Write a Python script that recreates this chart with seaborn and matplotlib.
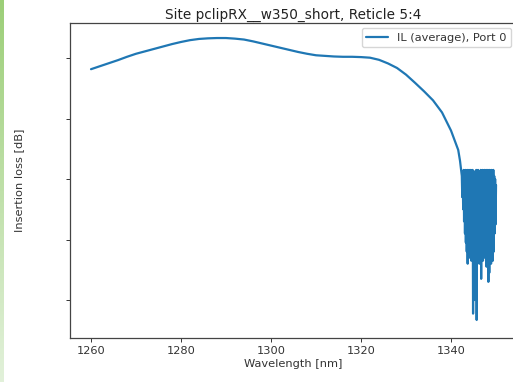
import numpy as np
import pandas as pd
import matplotlib
matplotlib.use("Agg")
import matplotlib.pyplot as plt
from matplotlib.colors import LinearSegmentedColormap
import seaborn as sns

# ---------------- data ----------------
smooth_wl = [1260, 1262, 1264, 1266, 1268, 1270, 1272, 1274, 1276, 1278,
             1280, 1282, 1284, 1286, 1288, 1290, 1292, 1294, 1296, 1298,
             1300, 1302, 1304, 1306, 1308, 1310, 1312, 1314, 1316, 1318,
             1320, 1322, 1324, 1326, 1328, 1330, 1332, 1334, 1336, 1338,
             1340, 1341, 1341.6, 1342.0]
smooth_il = [-4.37, -4.27, -4.17, -4.07, -3.96, -3.86, -3.78, -3.70, -3.62, -3.54,
             -3.47, -3.41, -3.37, -3.35, -3.34, -3.34, -3.36, -3.39, -3.45, -3.52,
             -3.59, -3.66, -3.73, -3.80, -3.86, -3.91, -3.93, -3.95, -3.96, -3.96,
             -3.97, -3.99, -4.06, -4.18, -4.33, -4.55, -4.82, -5.10, -5.40, -5.80,
             -6.40, -6.80, -7.04, -7.40]

noisy_wl = [1342.4, 1342.5, 1342.6, 1342.7, 1342.8, 1342.9, 1343.0, 1343.1, 1343.2, 1343.3,
            1343.4, 1343.5, 1343.6, 1343.7, 1343.8, 1343.9, 1344.0, 1344.1, 1344.2, 1344.3,
            1344.4, 1344.5, 1344.6, 1344.7, 1344.8, 1344.9, 1345.0, 1345.1, 1345.2, 1345.3,
            1345.4, 1345.5, 1345.6, 1345.7, 1345.8, 1345.9, 1346.0, 1346.1, 1346.2, 1346.3,
            1346.4, 1346.5, 1346.6, 1346.7, 1346.8, 1346.9, 1347.0, 1347.1, 1347.2, 1347.3,
            1347.4, 1347.5, 1347.6, 1347.7, 1347.8, 1347.9, 1348.0, 1348.1, 1348.2, 1348.3,
            1348.4, 1348.5, 1348.6, 1348.7, 1348.8, 1348.9, 1349.0, 1349.1, 1349.2, 1349.3,
            1349.4, 1349.5, 1349.6, 1349.7, 1349.8, 1349.9, 1350.0]
noisy_il = [-7.90, -8.60, -7.80, -9.00, -7.70, -9.40, -7.80, -9.80, -7.70, -10.10,
            -7.80, -10.40, -7.70, -10.80, -7.80, -10.30, -7.70, -10.60, -7.80, -10.40,
            -7.70, -10.70, -7.80, -10.50, -7.70, -12.45, -7.80, -10.30, -7.75, -12.00,
            -7.80, -10.60, -7.70, -12.66, -7.80, -10.70, -7.70, -10.30, -7.75, -10.80,
            -7.80, -10.40, -7.70, -11.30, -7.80, -10.50, -7.70, -10.70, -7.80, -10.40,
            -7.70, -10.60, -7.75, -10.30, -7.70, -10.90, -7.80, -10.50, -7.70, -11.40,
            -7.80, -11.10, -7.70, -10.60, -7.80, -10.80, -7.70, -10.50, -7.80, -10.70,
            -7.70, -10.40, -7.90, -9.80, -8.00, -9.50, -8.20]

y_ticks = [-4, -6, -8, -10, -12]
x_ticks = [1260, 1280, 1300, 1320, 1340]

title = "Site pclipRX__w350_short, Reticle 5:4"
series_label = "IL (average), Port 0"

df = pd.DataFrame({"Wavelength": smooth_wl + noisy_wl,
                   "IL": smooth_il + noisy_il})

# ---------------- figure ----------------
plt.rcParams["font.family"] = ["DejaVu Sans"]
plt.rcParams["path.simplify"] = False
fig = plt.figure(figsize=(5.13, 3.82), dpi=100)
fig.patch.set_facecolor("white")

# Jupyter-like green strip on the left edge
strip = fig.add_axes([0, 0, 3.5 / 513, 1])
grad = np.linspace(0, 1, 256).reshape(-1, 1)
cm = LinearSegmentedColormap.from_list("g", ["#9ccf78", "#e2f1da"])
strip.imshow(grad, aspect="auto", cmap=cm)
strip.set_axis_off()

ax = fig.add_axes([70 / 513, 44 / 382, 446 / 513, 315 / 382])
sns.lineplot(data=df, x="Wavelength", y="IL", ax=ax, color="#1f77b4",
             linewidth=1.6, estimator=None, sort=False, label=series_label,
             solid_joinstyle="round", solid_capstyle="round")

ax.set_xlim(1255.33, 1354.44)
ax.set_ylim(-13.256, -2.843)
ax.set_xticks(x_ticks)
ax.set_yticks(y_ticks)
ax.set_yticklabels([""] * len(y_ticks))
ax.tick_params(axis="both", labelsize=8.2, length=2.8, width=0.7, pad=2.6,
               colors="#333333", labelcolor="#333333")
for s in ax.spines.values():
    s.set_linewidth(0.9)
    s.set_color("#444444")

ax.set_xlabel("Wavelength [nm]", fontsize=8.2, color="#333333", labelpad=2.5)
ax.set_ylabel("Insertion loss [dB]", fontsize=8.2, color="#333333")
ax.yaxis.set_label_coords(-0.103, 0.5)
ax.set_title(title, fontsize=9.8, pad=3.0, color="#222222")

leg = ax.legend(loc="upper right", fontsize=8.2, frameon=True,
                borderaxespad=0.45, handlelength=1.9)
for t in leg.get_texts():
    t.set_color("#333333")

fig.savefig("out.png", dpi=100)
